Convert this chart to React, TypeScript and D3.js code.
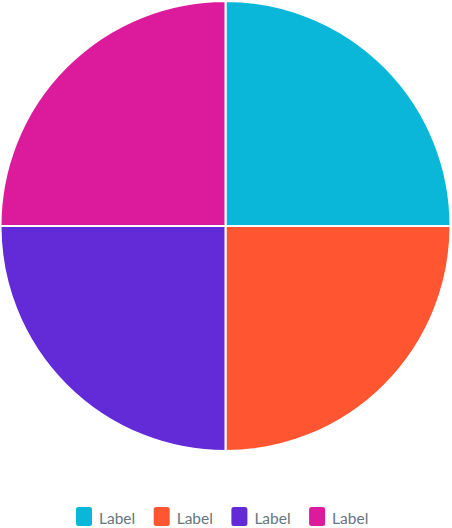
import React, { useEffect, useRef } from "react";
import * as d3 from "d3";

const labels = ["Label", "Label", "Label", "Label"];
const values = [25, 25, 25, 25];
const colors = ["#0bb7d8", "#ff5631", "#632ad8", "#dc1b9c"];

const App = (): JSX.Element => {
    const ref = useRef<SVGSVGElement>(null);
    const width = 452;
    const height = 528;
    const cx = 225.5;
    const cy = 226;
    const radius = 225;

    useEffect(() => {
        if (!ref.current) return;
        const svg = d3.select(ref.current);
        svg.selectAll("*").remove();

        const pie = d3.pie<number>().sort(null)(values);
        const arc = d3.arc<d3.PieArcDatum<number>>().innerRadius(0).outerRadius(radius);

        svg.append("g")
            .attr("transform", `translate(${cx},${cy})`)
            .selectAll("path")
            .data(pie)
            .join("path")
            .attr("d", arc)
            .attr("fill", (d, i) => colors[i])
            .attr("stroke", "#fff")
            .attr("stroke-width", 2)
            .attr("stroke-linejoin", "miter");

        // legend
        const itemW = 77.7;
        const x = d3
            .scaleLinear()
            .domain([0, labels.length])
            .range([76, 76 + itemW * labels.length]);
        const legend = svg
            .append("g")
            .selectAll("g")
            .data(labels)
            .join("g")
            .attr("transform", (d, i) => `translate(${x(i)},507)`);
        legend
            .append("rect")
            .attr("width", 16)
            .attr("height", 19)
            .attr("rx", 2.5)
            .attr("fill", (d, i) => colors[i]);
        legend
            .append("text")
            .attr("x", 23)
            .attr("y", 17)
            .attr("font-family", "Lato")
            .attr("font-size", 15.5)
            .attr("fill", "#66757f")
            .text((d) => d);
    }, []);

    return (
        <div style={{ position: "absolute", left: 0, top: 0 }}>
            <svg ref={ref} width={width} height={height} style={{ display: "block" }} />
        </div>
    );
};

export default App;
